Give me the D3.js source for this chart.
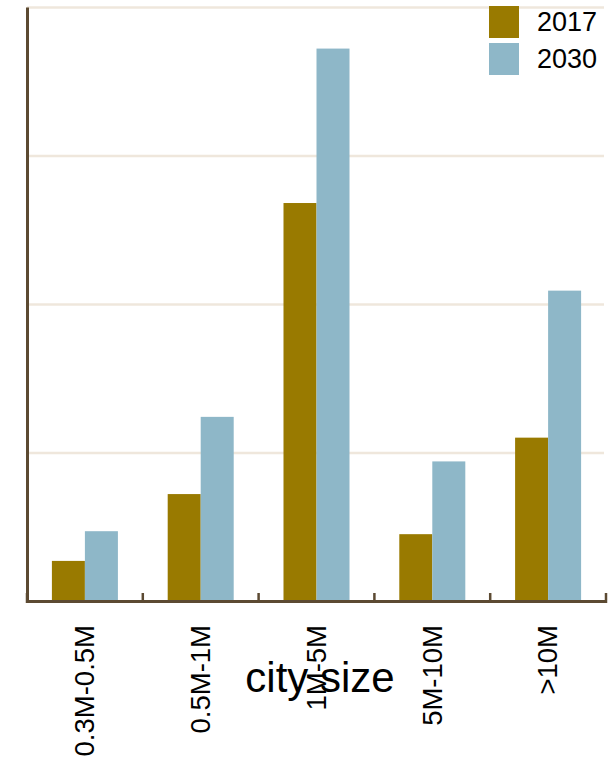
<!DOCTYPE html>
<html>
<head>
<meta charset="utf-8">
<script src="https://cdn.jsdelivr.net/npm/d3@7"></script>
<style>
  body { margin: 0; background: #fff; }
  svg { display: block; font-family: "Liberation Sans", Arial, sans-serif; }
</style>
</head>
<body>
<svg id="chart"></svg>
<script>
// values (one gridline = 100 units)
const categories = ["0.3M-0.5M", "0.5M-1M", "1M-5M", "5M-10M", ">10M"];
const years = ["2017", "2030"];
const values2017 = [27, 72, 268, 45, 110];
const values2030 = [47, 124, 372, 94, 209];
const yTicks = [100, 200, 300, 400];

const colors = { "2017": "#997a00", "2030": "#8eb7c8" };
const axisColor = "#5c4a32";
const gridColor = "#efe7dc";

const width = 613;
const height = 762;

const plotLeft = 27, plotRight = 606, plotTop = 7, plotBottom = 601;

const svg = d3.select("#chart")
    .attr("width", width)
    .attr("height", height);

const x0 = d3.scaleBand()
    .domain(categories)
    .range([plotLeft, plotRight])
    .padding(0);

const x1 = d3.scaleBand()
    .domain(years)
    .range([x0.bandwidth() * 0.215, x0.bandwidth() * 0.785]);

const y = d3.scaleLinear()
    .domain([0, 400])
    .range([plotBottom, plotTop]);

//gridlines
svg.append("g")
    .attr("transform", `translate(${plotLeft},0)`)
    .call(d3.axisLeft(y).tickValues(yTicks).tickSize(-(plotRight - 2 - plotLeft)).tickFormat(""))
    .call(g => g.select(".domain").remove())
    .call(g => g.selectAll(".tick line")
        .attr("stroke", gridColor)
        .attr("stroke-width", 2.5));

//bars
const rows = categories.map((c, i) => ({ cat: c, "2017": values2017[i], "2030": values2030[i] }));

svg.append("g")
  .selectAll("g")
  .data(rows)
  .join("g")
    .attr("transform", d => `translate(${x0(d.cat)},0)`)
  .selectAll("rect")
  .data(d => years.map(k => ({ key: k, value: d[k] })))
  .join("rect")
    .attr("x", d => x1(d.key))
    .attr("width", x1.bandwidth())
    .attr("y", d => y(d.value))
    .attr("height", d => y(0) - y(d.value))
    .attr("fill", d => colors[d.key]);

//y axis line
svg.append("g")
    .attr("transform", `translate(${plotLeft},0)`)
    .call(d3.axisLeft(y).tickValues([]).tickSizeOuter(0))
    .call(g => g.select(".domain")
        .attr("stroke", axisColor)
        .attr("stroke-width", 3));

//x axis with labels
const xAxis = svg.append("g")
    .attr("transform", `translate(0,${plotBottom})`)
    .call(d3.axisBottom(x0).tickSize(0).tickSizeOuter(0));

xAxis.select(".domain")
    .attr("stroke", axisColor)
    .attr("stroke-width", 3);

xAxis.selectAll(".tick text")
    .attr("transform", "rotate(-90)")
    .attr("text-anchor", "end")
    .attr("x", -24)
    .attr("y", 0)
    .attr("dy", "0.34em")
    .attr("fill", "#000")
    .style("font-size", "27.5px");

//tick marks between groups
const bounds = categories.map(c => x0(c)).concat([plotRight]);
xAxis.selectAll(".sep")
    .data(bounds)
    .join("line")
    .attr("class", "sep")
    .attr("x1", d => d)
    .attr("x2", d => d)
    .attr("y1", -8)
    .attr("y2", 2)
    .attr("stroke", axisColor)
    .attr("stroke-width", 2.5);

//axis title
svg.append("text")
    .attr("x", 320)
    .attr("y", 692)
    .attr("text-anchor", "middle")
    .style("font-size", "42px")
    .attr("fill", "#000")
    .text("city size");

//legend
const legend = svg.append("g")
  .selectAll("g")
  .data(years)
  .join("g")
    .attr("transform", (d, i) => `translate(489,${6 + i * 37})`);

legend.append("rect")
    .attr("width", 30)
    .attr("height", 32)
    .attr("fill", d => colors[d]);

legend.append("text")
    .attr("x", 48)
    .attr("y", 25)
    .style("font-size", "27px")
    .attr("fill", "#000")
    .text(d => d);
</script>
</body>
</html>
